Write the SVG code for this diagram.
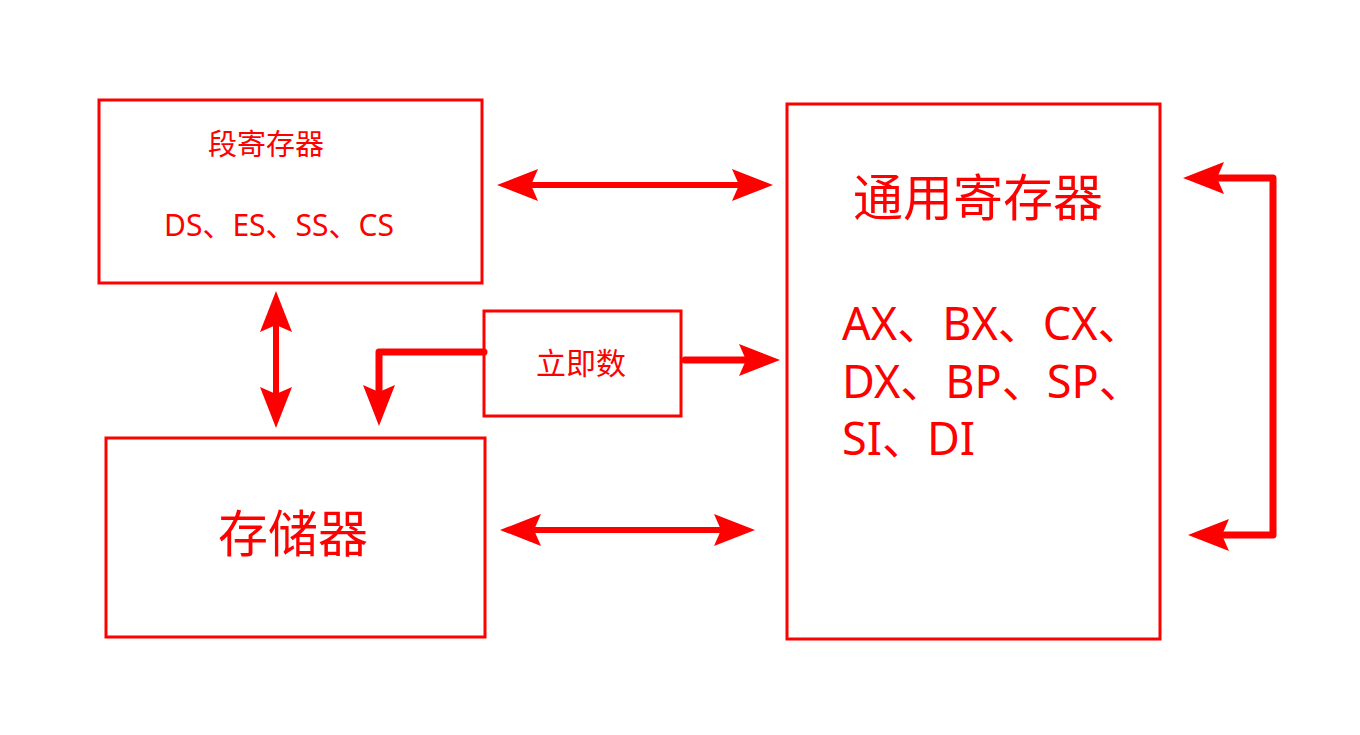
<svg xmlns="http://www.w3.org/2000/svg" width="1360" height="735" viewBox="0 0 1360 735">
<style>
.box{fill:#fff;stroke:#ff0000;stroke-width:3}
.t{fill:#ff0000;font-family:"Noto Sans","Noto Sans CJK SC",sans-serif}
.c{fill:none;stroke:#ff0000;stroke-width:6}
.c7{fill:none;stroke:#ff0000;stroke-width:7;stroke-linejoin:round;stroke-linecap:round}
</style>
<defs>
<marker id="ah" markerUnits="userSpaceOnUse" markerWidth="44" markerHeight="36" viewBox="-42 -18 44 36" refX="-32" refY="0" orient="auto-start-reverse">
<path d="M0,0 L-41,-16 L-34,0 L-41,16 Z" fill="#ff0000"/>
</marker>
</defs>
<rect width="1360" height="735" fill="#fff"/>
<g id="seg">
<rect class="box" x="99" y="100" width="383" height="183"/>
<text class="t" x="266" y="155" font-size="29" text-anchor="middle">段寄存器</text>
<text class="t" x="279" y="236" font-size="30" text-anchor="middle">DS、ES、SS、CS</text>
</g>
<g id="mem">
<rect class="box" x="106" y="438" width="379" height="199"/>
<text class="t" x="293" y="552" font-size="50" text-anchor="middle">存储器</text>
</g>
<g id="imm">
<rect class="box" x="484" y="311" width="197" height="105"/>
<text class="t" x="581" y="374" font-size="30" text-anchor="middle">立即数</text>
</g>
<g id="gen">
<rect class="box" x="787" y="104" width="373" height="535"/>
<text class="t" x="978" y="216" font-size="50" text-anchor="middle">通用寄存器</text>
<text class="t" x="842" y="340" font-size="45">AX、BX、CX、</text>
<text class="t" x="842" y="398" font-size="45">DX、BP、SP、</text>
<text class="t" x="842" y="455" font-size="45">SI、DI</text>
</g>
<g id="connectors">
<path class="c" d="M529,185 H741" marker-start="url(#ah)" marker-end="url(#ah)"/>
<path class="c" d="M532,530 H723" marker-start="url(#ah)" marker-end="url(#ah)"/>
<path class="c" d="M276,323 V396" marker-start="url(#ah)" marker-end="url(#ah)"/>
<path class="c7" d="M484,352 H379 V394" marker-end="url(#ah)"/>
<path class="c7" d="M685,360 H748" marker-end="url(#ah)"/>
<path class="c7" d="M1215,178 H1273 V535 H1220" marker-start="url(#ah)" marker-end="url(#ah)"/>
</g>
</svg>
